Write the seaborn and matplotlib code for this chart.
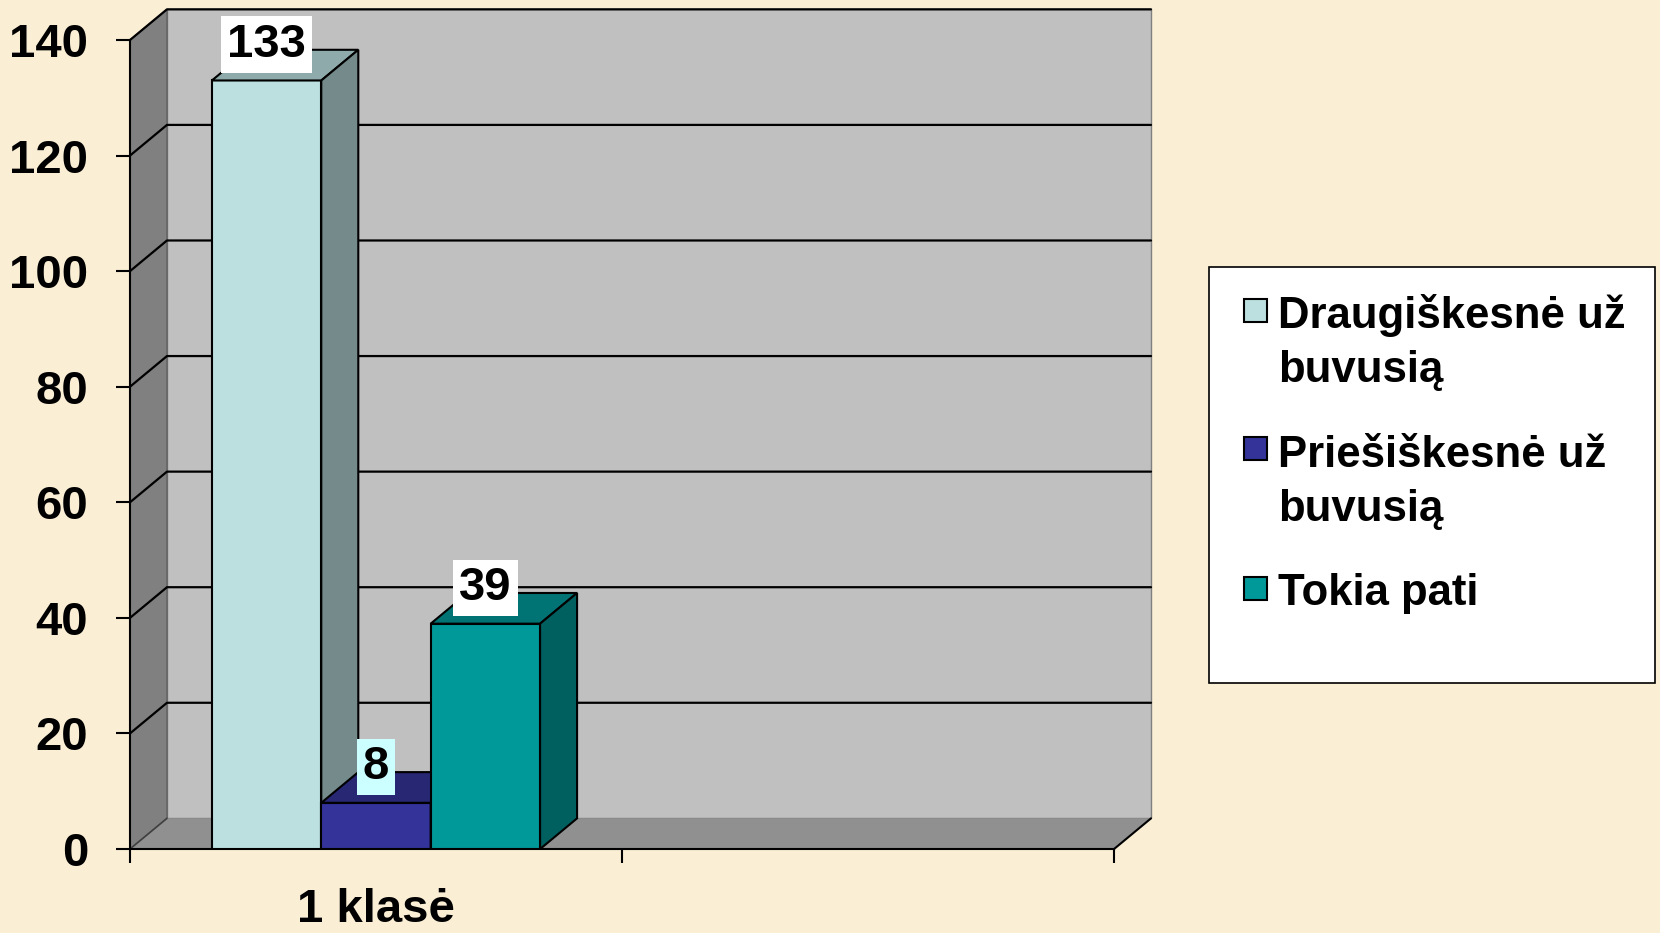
import numpy as np
import pandas as pd
import seaborn as sns
import matplotlib.pyplot as plt
import matplotlib.colors as mcolors
from matplotlib.patches import Polygon, Rectangle

# Chart data
categories = ["1 klasė", " "]
series = ["Draugiškesnė už\nbuvusią", "Priešiškesnė už\nbuvusią", "Tokia pati"]
values = [133, 8, 39]
colors = ["#BCE0E0", "#333399", "#009999"]
label_bg = ["white", "#CCFFFF", "white"]
y_ticks = [0, 20, 40, 60, 80, 100, 120, 140]

df = pd.DataFrame({
    "Klasė": [categories[0]] * len(values),
    "Požiūris": series,
    "Kiekis": values,
})

sns.set_style("white")
plt.rcParams["font.family"] = ["Liberation Sans", "DejaVu Sans"]
plt.rcParams["font.weight"] = "bold"
plt.rcParams["text.color"] = "black"

fig = plt.figure(figsize=(16.6, 9.33), dpi=100)
fig.patch.set_facecolor("#FAEED5")
ax = fig.add_axes([0.0783, 0.0900, 0.5928, 0.8671])
ax.set_facecolor("none")

# 3D depth offset (data units)
dx, dy = 0.0752, 5.31
x0, x1 = -0.5, 1.5
ymax = y_ticks[-1]


def shade(c, f):
    r, g, b = mcolors.to_rgb(c)
    return (r * f, g * f, b * f)


# Walls and floor
ax.add_patch(Polygon([(x0 + dx, dy), (x1 + dx, dy), (x1 + dx, ymax + dy), (x0 + dx, ymax + dy)],
                     closed=True, fc="#C0C0C0", ec="#808080", lw=1, clip_on=False, zorder=0.1))
ax.add_patch(Polygon([(x0, 0), (x0 + dx, dy), (x0 + dx, ymax + dy), (x0, ymax)],
                     closed=True, fc="#808080", ec="#606060", lw=1, clip_on=False, zorder=0.2))
ax.add_patch(Polygon([(x0, 0), (x1, 0), (x1 + dx, dy), (x0 + dx, dy)],
                     closed=True, fc="#909090", ec="none", clip_on=False, zorder=0.2))
ax.plot([x1, x1 + dx], [0, dy], color="black", lw=1.5, clip_on=False, zorder=0.3)
ax.plot([x0, x0 + dx], [0, dy], color="#404040", lw=1.2, clip_on=False, zorder=0.3)
for t in y_ticks[1:]:
    ax.plot([x0, x0 + dx, x1 + dx], [t, t + dy, t + dy], color="black", lw=1.6,
            clip_on=False, zorder=0.3)

# Bars (front faces)
sns.barplot(data=df, x="Klasė", y="Kiekis", hue="Požiūris", order=categories,
            hue_order=series, palette=colors, saturation=1, width=0.667,
            edgecolor="black", linewidth=1.5, legend=False, ax=ax)

# Top / side faces and value labels
for i, cont in enumerate(ax.containers):
    for bar in cont:
        h = bar.get_height()
        if not np.isfinite(h) or h == 0:
            continue
        bx0 = bar.get_x()
        bx1 = bx0 + bar.get_width()
        bar.set_zorder(10 + 3 * i)
        ax.add_patch(Polygon([(bx0, h), (bx1, h), (bx1 + dx, h + dy), (bx0 + dx, h + dy)],
                             closed=True, fc=shade(colors[i], 0.76), ec="black", lw=1.5,
                             clip_on=False, zorder=11 + 3 * i))
        ax.add_patch(Polygon([(bx1, 0), (bx1, h), (bx1 + dx, h + dy), (bx1 + dx, dy)],
                             closed=True, fc=shade(colors[i], 0.62), ec="black", lw=1.5,
                             clip_on=False, zorder=11 + 3 * i))
        ax.annotate(f"{h:.0f}", xy=((bx0 + bx1) / 2, h), xytext=(0, 10),
                    textcoords="offset points", ha="center", va="bottom",
                    fontsize=34, fontweight="bold", color="black",
                    bbox=dict(boxstyle="square,pad=0.13", fc=label_bg[i], ec="none"),
                    zorder=40, annotation_clip=False)

# Axes
ax.set_xlim(x0, x1)
ax.set_ylim(0, ymax)
ax.set_yticks(y_ticks)
ax.set_xticks([0])
ax.set_xticklabels([categories[0]])
ax.set_xticks([x0, 0.5, x1], minor=True)
ax.tick_params(axis="y", left=True, length=10, width=1.5, pad=20, labelsize=34,
               color="black", labelcolor="black")
ax.tick_params(axis="x", which="major", bottom=True, length=0, pad=28, labelsize=34,
               labelcolor="black")
ax.tick_params(axis="x", which="minor", bottom=True, length=10, width=1.5, color="black")
for s in ["top", "right"]:
    ax.spines[s].set_visible(False)
for s in ["left", "bottom"]:
    ax.spines[s].set_color("black")
    ax.spines[s].set_linewidth(1.5)
ax.set_xlabel("")
ax.set_ylabel("")

# Legend box (markers next to the first line of each entry)
fig.add_artist(Rectangle((0.7283, 0.268), 0.2687, 0.4459, transform=fig.transFigure,
                         fc="white", ec="black", lw=1.2))
row_centers = [310, 449, 588]  # px from top of figure
W, H = 1660, 933
sq = 23
pitch = 55
for c, lab, yc in zip(colors, series, row_centers):
    fig.add_artist(Rectangle((1244 / W, (H - yc - sq / 2) / H), sq / W, sq / H,
                             transform=fig.transFigure, fc=c, ec="black", lw=1.5))
    base = yc + 17 + lab.count("\n") * pitch  # baseline of the last line
    fig.text(1278 / W, (H - base) / H, lab, ha="left", va="baseline",
             fontsize=31.5, fontweight="bold", color="black", linespacing=1.4)

fig.savefig("out.png", dpi=100, facecolor=fig.get_facecolor())
